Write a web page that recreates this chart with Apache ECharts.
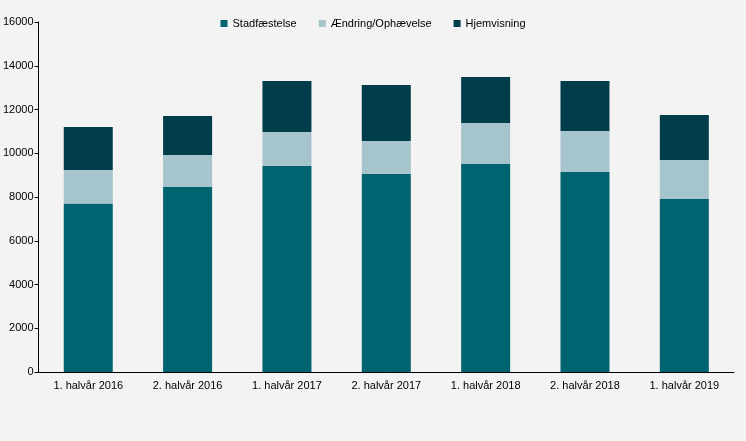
<!DOCTYPE html><html><head><meta charset="utf-8"><script src="https://cdn.jsdelivr.net/npm/echarts@6/dist/echarts.min.js"></script>
<style>html,body{margin:0;background:#f3f3f3}#c{width:746px;height:441px}</style></head><body><div id="c"></div><script>
const categories=['1. halvår 2016','2. halvår 2016','1. halvår 2017','2. halvår 2017','1. halvår 2018','2. halvår 2018','1. halvår 2019'];
const stadfaestelse=[7700,8460,9420,9050,9510,9140,7910];
const aendring=[1530,1460,1550,1510,1870,1880,1780];
const hjemvisning=[1970,1780,2330,2560,2110,2280,2060];
const f='Liberation Sans, Arial, sans-serif';
const mk=(n,d,c)=>({name:n,type:'bar',stack:'a',data:d,barWidth:49,itemStyle:{color:c}});
echarts.init(document.getElementById('c')).setOption({
animation:false,backgroundColor:'#f3f3f3',
legend:{top:13,left:'center',itemWidth:7,itemHeight:7,itemGap:22,icon:'rect',textStyle:{fontFamily:f,fontSize:11,color:'#000'}},
grid:{left:37,right:12,top:22,bottom:69},
xAxis:{type:'category',data:categories,axisTick:{show:false},axisLine:{lineStyle:{color:'#000'}},axisLabel:{fontFamily:f,fontSize:11,color:'#000',margin:8}},
yAxis:{type:'value',min:0,max:16000,interval:2000,splitLine:{show:false},axisLine:{show:true,lineStyle:{color:'#000'}},axisTick:{show:true,length:4,lineStyle:{color:'#000'}},axisLabel:{fontFamily:f,fontSize:11,color:'#000',margin:5,formatter:v=>String(v)}},
series:[mk('Stadfæstelse',stadfaestelse,'#006470'),mk('Ændring/Ophævelse',aendring,'#a6c4cc'),mk('Hjemvisning',hjemvisning,'#003c4a')]
});
</script></body></html>
